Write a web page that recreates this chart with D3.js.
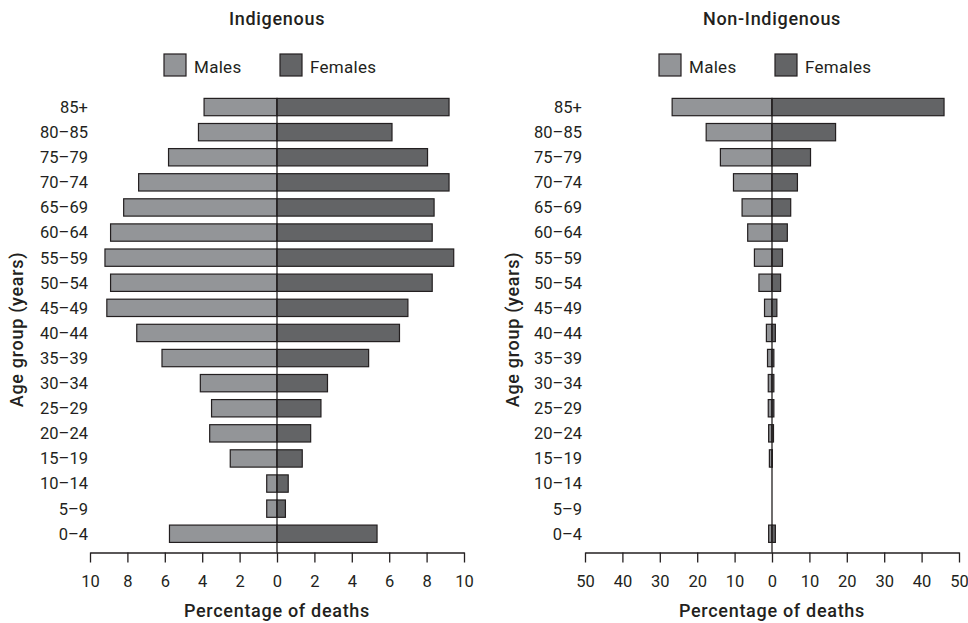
<!DOCTYPE html>
<html><head><meta charset="utf-8">
<script src="https://cdn.jsdelivr.net/npm/d3@7"></script>
<style>
body{margin:0;background:#fff;}
svg text{font-family:Roboto,"Noto Sans",sans-serif;fill:#231f20;}
</style></head>
<body><svg id="c" width="968" height="623"></svg>
<script>
const ageGroups = ["85+","80–85","75–79","70–74","65–69","60–64","55–59","50–54","45–49","40–44","35–39","30–34","25–29","20–24","15–19","10–14","5–9","0–4"];
const indigenousMales   = [3.9,4.2,5.8,7.4,8.2,8.9,9.2,8.9,9.1,7.5,6.15,4.1,3.5,3.6,2.5,0.55,0.55,5.75];
const indigenousFemales = [9.2,6.15,8.05,9.2,8.4,8.3,9.45,8.3,7.0,6.55,4.9,2.7,2.35,1.8,1.35,0.6,0.45,5.35];
const nonIndigMales     = [26.7,17.6,13.8,10.3,8.0,6.5,4.7,3.5,2.0,1.5,1.2,1.0,1.0,0.9,0.7,0,0,0.9];
const nonIndigFemales   = [46.0,17.0,10.3,6.8,5.0,4.1,2.8,2.3,1.3,0.9,0.5,0.5,0.5,0.4,0.1,0,0,0.9];
const leftTicks  = [-10,-8,-6,-4,-2,0,2,4,6,8,10];
const rightTicks = [-50,-40,-30,-20,-10,0,10,20,30,40,50];
const panels = [
  {title:"Indigenous", males:indigenousMales, females:indigenousFemales, max:10, ticks:leftTicks, x0:90, x1:464, labelX:88, yTitleX:23},
  {title:"Non-Indigenous", males:nonIndigMales, females:nonIndigFemales, max:50, ticks:rightTicks, x0:585, x1:959, labelX:582, yTitleX:519}
];
const maleColor = "#939598", femaleColor = "#636466", ink = "#231f20";
const svg = d3.select("#c");
const y = d3.scaleBand().domain(ageGroups).range([94.5, 546.3]).paddingInner(0.31).paddingOuter(0.155);
const axisY = 552.5;

panels.forEach(p => {
  const x = d3.scaleLinear().domain([-p.max, p.max]).range([p.x0, p.x1]);
  const g = svg.append("g");
  const cx = x(0);
  g.append("text").attr("x", cx).attr("y", 25).attr("text-anchor","middle")
    .attr("font-size", 18).attr("font-weight", 500).attr("letter-spacing", 0.7).text(p.title);
  // legend
  const leg = [{t:"Males", c:maleColor, dx:-113},{t:"Females", c:femaleColor, dx:3}];
  leg.forEach(l => {
    g.append("rect").attr("x", cx + l.dx).attr("y", 54).attr("width", 22).attr("height", 22)
      .attr("fill", l.c).attr("stroke", ink).attr("stroke-width", 1.2);
    g.append("text").attr("x", cx + l.dx + 30).attr("y", 73).attr("font-size", 17).attr("letter-spacing", 0.3).text(l.t);
  });
  // bars
  g.selectAll("rect.m").data(p.males).join("rect").attr("class","m")
    .attr("x", d => x(-d)).attr("width", d => cx - x(-d))
    .attr("y", (d,i) => y(ageGroups[i])).attr("height", y.bandwidth())
    .attr("fill", maleColor).attr("stroke", ink).attr("stroke-width", 1.2)
    .attr("display", d => d > 0 ? null : "none");
  g.selectAll("rect.f").data(p.females).join("rect").attr("class","f")
    .attr("x", cx).attr("width", d => x(d) - cx)
    .attr("y", (d,i) => y(ageGroups[i])).attr("height", y.bandwidth())
    .attr("fill", femaleColor).attr("stroke", ink).attr("stroke-width", 1.2)
    .attr("display", d => d > 0 ? null : "none");
  // zero line
  g.append("line").attr("x1", cx).attr("x2", cx).attr("y1", y(ageGroups[0])).attr("y2", axisY)
    .attr("stroke", ink).attr("stroke-width", 1.3);
  // y labels
  g.selectAll("text.yl").data(ageGroups).join("text").attr("class","yl")
    .attr("x", p.labelX).attr("y", d => y(d) + y.bandwidth()/2).attr("dy","0.36em")
    .attr("text-anchor","end").attr("font-size", 16.5).text(d => d);
  // x axis
  const ax = g.append("g").attr("transform", `translate(0,${axisY})`)
    .call(d3.axisBottom(x).tickValues(p.ticks).tickSize(10).tickSizeOuter(0).tickPadding(12.5).tickFormat(d => Math.abs(d)));
  ax.select(".domain").attr("stroke", ink).attr("stroke-width", 1.3);
  ax.selectAll(".tick line").attr("stroke", ink).attr("stroke-width", 1.3);
  ax.selectAll(".tick text").attr("font-size", 16.5).attr("font-family","Roboto,sans-serif").attr("fill", ink);
  g.append("text").attr("x", cx).attr("y", 617).attr("text-anchor","middle")
    .attr("font-size", 18).attr("font-weight", 500).attr("letter-spacing", 0.7).text("Percentage of deaths");
  g.append("text").attr("transform", `translate(${p.yTitleX},${(y.range()[0]+axisY)/2 + 6}) rotate(-90)`)
    .attr("text-anchor","middle").attr("font-size", 18).attr("font-weight", 500).attr("letter-spacing", 0.7).text("Age group (years)");
});
</script></body></html>
